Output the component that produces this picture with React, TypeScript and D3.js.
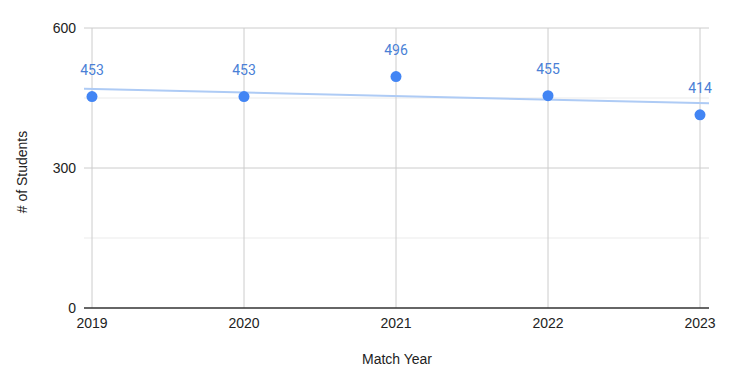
import React from "react";
import * as d3 from "d3";

const years = ["2019", "2020", "2021", "2022", "2023"];
const students = [453, 453, 496, 455, 414];
const yTicks = [0, 300, 600];
const yMinorTicks = [150, 450];

export default function App() {
  const W = 750, H = 378;
  const left = 84, right = 709, top = 28, bottom = 308;
  const x = d3.scalePoint<string>().domain(years).range([92, 700]);
  const y = d3.scaleLinear().domain([0, 600]).range([bottom, top]);

  // linear trendline (least squares) on index
  const idx = years.map((_, i) => i);
  const mx = d3.mean(idx)!;
  const my = d3.mean(students)!;
  const slope =
    d3.sum(idx, (i) => (i - mx) * (students[i] - my)) / d3.sum(idx, (i) => (i - mx) ** 2);
  const icpt = my - slope * mx;
  const step = x.step();
  const x0 = x(years[0])!;
  const idxAt = (px: number) => (px - x0) / step;
  const trend = d3.line<number>()
    .x((px) => px)
    .y((px) => y(icpt + slope * idxAt(px)));

  const tickFont = "Arial, 'Liberation Sans', sans-serif";
  const labelFont = "Roboto, Arial, sans-serif";

  return (
    <svg width={W} height={H} style={{ position: "absolute", left: 0, top: 0, background: "#fff" }}>
      {yMinorTicks.map((t) => (
        <line key={"m" + t} x1={left} x2={right} y1={y(t)} y2={y(t)} stroke="#ebebeb" strokeWidth={1} />
      ))}
      {yTicks.filter((t) => t !== 0).map((t) => (
        <line key={"g" + t} x1={left} x2={right} y1={y(t)} y2={y(t)} stroke="#cccccc" strokeWidth={1} />
      ))}
      {years.map((yr) => (
        <line key={"v" + yr} x1={x(yr)} x2={x(yr)} y1={top} y2={bottom} stroke="#cccccc" strokeWidth={1} />
      ))}
      <line x1={left} x2={right} y1={bottom} y2={bottom} stroke="#333333" strokeWidth={1.5} />
      {yTicks.map((t) => (
        <text key={"yt" + t} x={76} y={y(t)} dy="0.35em" textAnchor="end" fontFamily={tickFont} fontSize={14} fill="#222">
          {t}
        </text>
      ))}
      {years.map((yr) => (
        <text key={"xt" + yr} x={x(yr)} y={328} textAnchor="middle" fontFamily={tickFont} fontSize={14} fill="#222">
          {yr}
        </text>
      ))}
      <path d={trend([left, right]) || ""} stroke="#aecbf5" strokeWidth={2} fill="none" />
      {years.map((yr, i) => (
        <circle key={"c" + yr} cx={x(yr)} cy={y(students[i])} r={5.5} fill="#4285f4" />
      ))}
      {years.map((yr, i) => (
        <text key={"l" + yr} x={x(yr)} y={y(students[i]) - 22} textAnchor="middle" fontFamily={labelFont} fontSize={14} fill="#4a7fd6">
          {students[i]}
        </text>
      ))}
      <text x={397} y={364} textAnchor="middle" fontFamily={tickFont} fontSize={14} fill="#222">
        Match Year
      </text>
      <text transform={`translate(27,${172}) rotate(-90)`} textAnchor="middle" fontFamily={tickFont} fontSize={14} fill="#222">
        # of Students
      </text>
    </svg>
  );
}
